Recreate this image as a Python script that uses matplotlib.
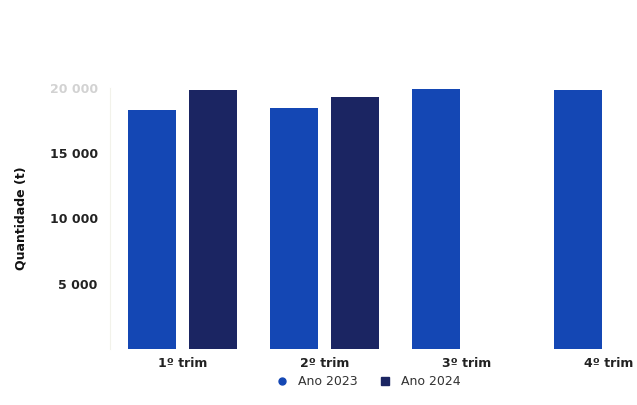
import numpy as np
import matplotlib
matplotlib.use("Agg")
import matplotlib.pyplot as plt
from matplotlib.lines import Line2D

plt.rcParams['font.family'] = ['Liberation Sans Narrow', 'DejaVu Sans Condensed', 'DejaVu Sans']

trimestres = ["1º trim", "2º trim", "3º trim", "4º trim"]
ano_2023 = [18300, 18450, 19950, 19850]
ano_2024 = [19850, 19300, np.nan, np.nan]
y_ticks = [5000, 10000, 15000, 20000]
y_tick_labels = ["5 000", "10 000", "15 000", "20 000"]

cor_2023 = "#1447b4"
cor_2024 = "#1b2562"

fig = plt.figure(figsize=(6.37, 4.05), dpi=100)
ax = fig.add_axes([0.173, 0.138, 0.827, 0.645])

x = np.arange(len(trimestres))
w = 0.34
off = 0.215
ax.bar(x - off, ano_2023, width=w, color=cor_2023)
ax.bar(x + off, ano_2024, width=w, color=cor_2024)

ax.set_xlim(-0.51, 3.2)
ax.set_ylim(0, 20000)
ax.set_xticks(x)
ax.set_xticklabels(trimestres, fontsize=9, fontweight="bold", color="#222222")
ax.set_yticks(y_ticks)
ax.set_yticklabels(y_tick_labels, fontsize=9, fontweight="bold", color="#222222")
ax.get_yticklabels()[-1].set_alpha(0.2)
ax.tick_params(length=0)
ax.tick_params(axis="y", pad=9)
ax.tick_params(axis="x", pad=6)
for s in ["top", "right", "bottom"]:
    ax.spines[s].set_visible(False)
ax.spines["left"].set_color("#f2f2ea")

ax.set_ylabel("Quantidade (t)", fontsize=9, fontweight="bold", color="#111111", labelpad=16)

handles = [
    Line2D([], [], marker="o", linestyle="none", color=cor_2023, markersize=5),
    Line2D([], [], marker="s", linestyle="none", color=cor_2024, markersize=6),
]
fig.legend(handles, ["Ano 2023", "Ano 2024"], loc="center", bbox_to_anchor=(0.573, 0.058),
           ncol=2, frameon=False, fontsize=9, handletextpad=0.3, columnspacing=1.2,
           labelcolor="#333333")

fig.savefig("out.png", dpi=100)
